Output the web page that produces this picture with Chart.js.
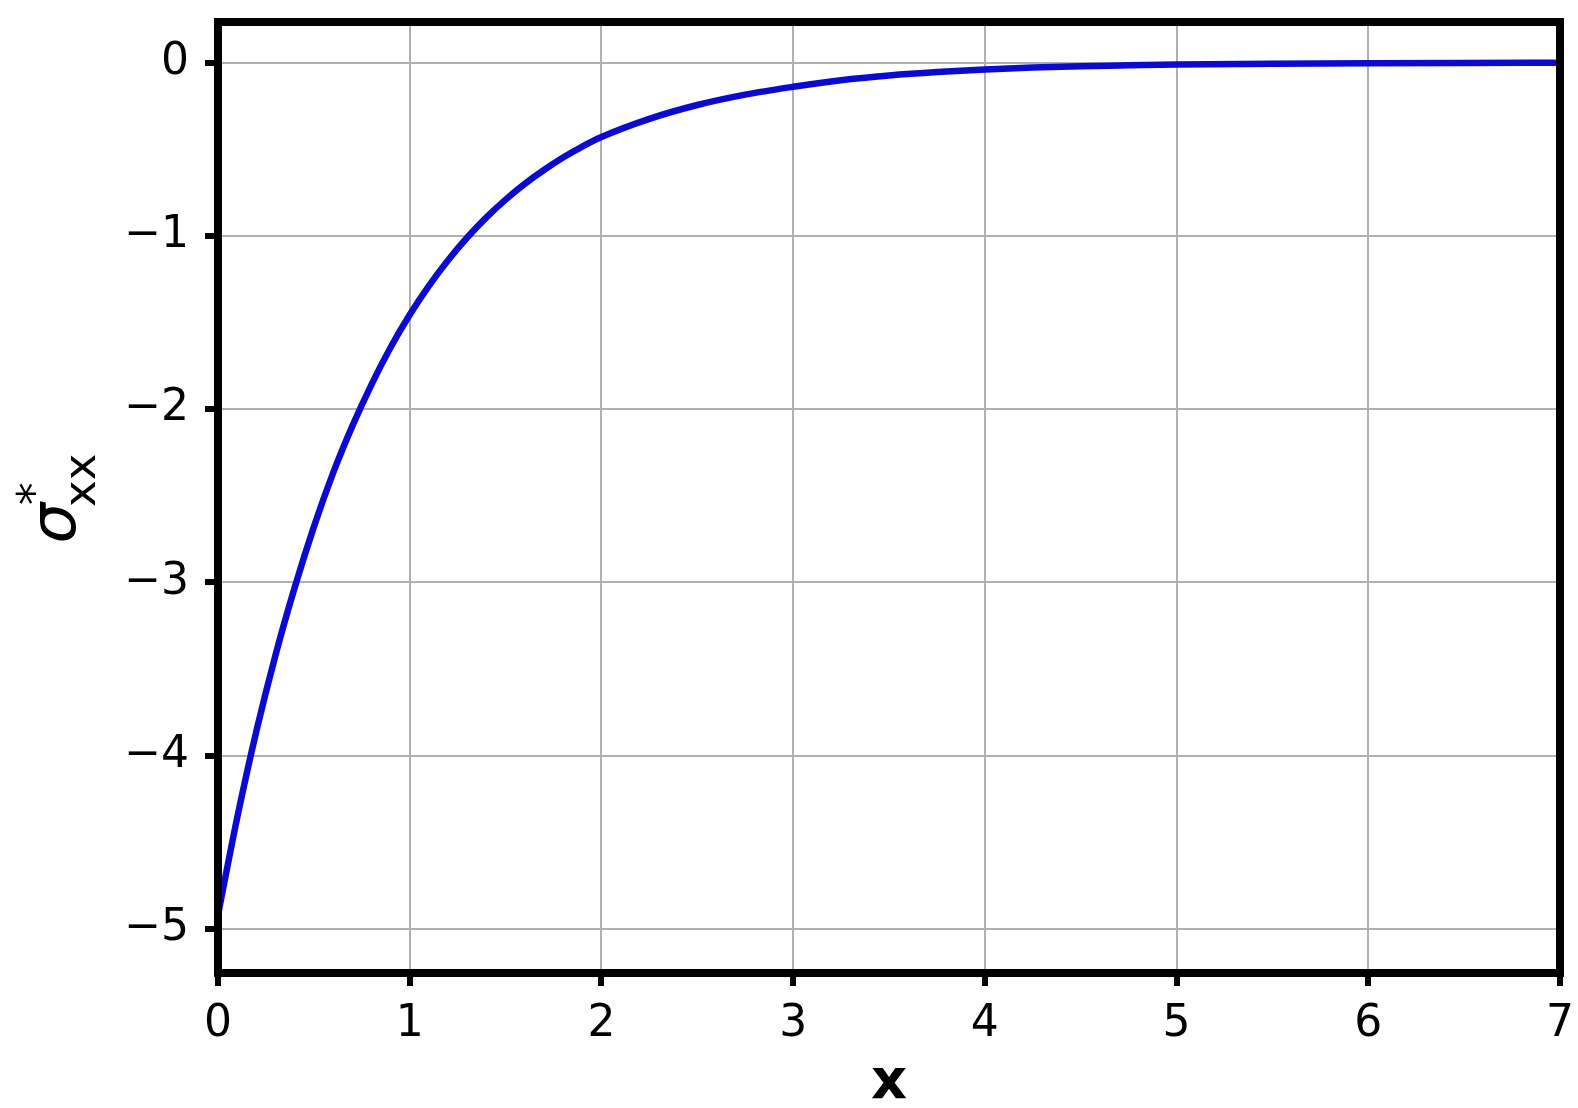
<!DOCTYPE html>
<html>
<head>
<meta charset="utf-8">
<script src="https://cdn.jsdelivr.net/npm/chart.js@4.4.1/dist/chart.umd.min.js"></script>
<style>
  body { margin: 0; background: #fff; }
</style>
</head>
<body>
<canvas id="stressChart" width="1578" height="1108"></canvas>
<script>
// values
var xValues = [0, 0.1, 0.2, 0.3, 0.4, 0.5, 0.6, 0.7, 0.8, 0.9,
               1.0, 1.1, 1.2, 1.3, 1.4, 1.5, 1.6, 1.7, 1.8, 1.9,
               2.0, 2.25, 2.5, 2.75, 3.0, 3.25, 3.5, 3.75, 4.0, 4.25, 4.5, 4.75,
               5.0, 5.5, 6.0, 6.5, 7.0];
var sigmaValues = [-4.92, -4.36, -3.86, -3.42, -3.03, -2.68, -2.37, -2.10, -1.86, -1.645,
                   -1.456, -1.289, -1.141, -1.01, -0.894, -0.791, -0.70, -0.62, -0.548, -0.485,
                   -0.43, -0.325, -0.245, -0.185, -0.14, -0.102, -0.075, -0.055, -0.04, -0.029, -0.021, -0.016,
                   -0.012, -0.007, -0.004, -0.002, -0.001];

var xTicks = [0, 1, 2, 3, 4, 5, 6, 7];
var yTicks = [-5, -4, -3, -2, -1, 0];

var points = xValues.map(function (x, i) { return { x: x, y: sigmaValues[i] }; });

// thick black box round the plot, drawn over the curve
var frame = {
    id: 'frame',
    afterDatasetsDraw: function (chart) {
        var ctx = chart.ctx, a = chart.chartArea;
        ctx.save();
        ctx.strokeStyle = '#000';
        ctx.lineWidth = 8;
        ctx.strokeRect(a.left, a.top, a.right - a.left, a.bottom - a.top);
        ctx.restore();
    },
    afterDraw: function (chart) {
        // y label: sigma*_xx, rotated
        var ctx = chart.ctx, a = chart.chartArea;
        var mid = (a.top + a.bottom) / 2;
        ctx.save();
        ctx.translate(75, mid + 46);
        ctx.rotate(-Math.PI / 2);
        ctx.fillStyle = '#000';
        ctx.textBaseline = 'alphabetic';
        ctx.font = 'italic 64px "DejaVu Sans"';
        ctx.fillText('σ', 0, 0);
        var w = ctx.measureText('σ').width;
        ctx.font = '45px "DejaVu Sans"';
        ctx.fillText('*', w - 2, -26);
        ctx.fillText('xx', w - 4, 20);
        ctx.restore();
    }
};

new Chart(document.getElementById('stressChart'), {
    type: 'scatter',
    data: {
        datasets: [{
            data: points,
            showLine: true,
            borderColor: '#0a0ad2',
            borderWidth: 6.5,
            pointRadius: 0,
            cubicInterpolationMode: 'monotone',
            fill: false
        }]
    },
    options: {
        responsive: false,
        animation: false,
        layout: { padding: { left: 0, right: 18, top: 22, bottom: 0 } },
        plugins: {
            legend: { display: false },
            tooltip: { enabled: false }
        },
        scales: {
            x: {
                type: 'linear',
                min: 0,
                max: 7,
                afterFit: function (scale) {
                    scale.height = 135;
                    scale.paddingLeft = 0;
                    scale.paddingRight = 0;
                },
                afterBuildTicks: function (scale) {
                    scale.ticks = xTicks.map(function (v) { return { value: v }; });
                },
                ticks: {
                    color: '#000',
                    padding: 12,
                    maxRotation: 0,
                    font: { family: 'DejaVu Sans', size: 44 }
                },
                grid: {
                    color: '#b0b0b0',
                    lineWidth: 2,
                    tickColor: '#000',
                    tickWidth: 6,
                    tickLength: 13
                },
                border: { display: false },
                title: {
                    display: true,
                    text: 'x',
                    color: '#000',
                    font: { family: 'DejaVu Sans', size: 56, weight: 'bold', lineHeight: 0.8 },
                    padding: { top: 0, bottom: 2 }
                }
            },
            y: {
                type: 'linear',
                min: -5.255,
                max: 0.234,
                afterFit: function (scale) {
                    scale.width = 218;
                    scale.paddingTop = 0;
                    scale.paddingBottom = 0;
                },
                afterBuildTicks: function (scale) {
                    scale.ticks = yTicks.map(function (v) { return { value: v }; });
                },
                ticks: {
                    color: '#000',
                    padding: 16,
                    font: { family: 'DejaVu Sans', size: 44 },
                    callback: function (v) { return v < 0 ? '\u2212' + Math.abs(v) : '0'; }
                },
                grid: {
                    color: '#b0b0b0',
                    lineWidth: 2,
                    tickColor: '#000',
                    tickWidth: 6,
                    tickLength: 13
                },
                border: { display: false }
            }
        }
    },
    plugins: [frame]
});
</script>
</body>
</html>
